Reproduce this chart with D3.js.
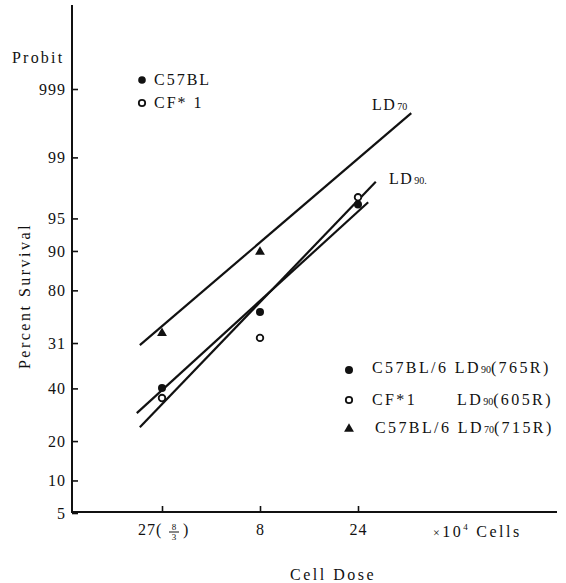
<!DOCTYPE html>
<html>
<head>
<meta charset="utf-8">
<script src="https://cdn.jsdelivr.net/npm/d3@7"></script>
<style>
  body { margin: 0; background: #fff; }
  svg { display: block; }
  text { font-family: "Liberation Serif", "DejaVu Serif", serif; fill: #111; }
</style>
</head>
<body>
<div id="viz"></div>
<script>
// cell doses (x10^4 cells)
const doses = [8 / 3, 8, 24];
const doseLabels = ["", "8", "24"];

// percent survival
const c57Ld90 = [40.2, 72.6, 96.4];
const cf1Ld90 = [35.9, 62.2, 97.0];
const c57Ld70 = [64.2, 89.8];

// fitted lines, [dose, percent] end points
const fitLd70 = [[2.08, 59.1], [43.6, 99.76]];
const fitC57 = [[2.01, 29.8], [26.9, 96.6]];
const fitCf1 = [[2.08, 24.6], [29.3, 98.0]];

// probit axis
const yTicks = [5, 10, 20, 40, 60, 80, 90, 95, 99, 99.9];
const yLabels = ["5", "10", "20", "40", "31", "80", "90", "95", "99", "999"];

// inverse normal cdf (Acklam), pct in percent
function probit(pct) {
  const p = pct / 100;
  const a = [-39.69683028665376, 220.9460984245205, -275.9285104469687, 138.3577518672690, -30.66479806614716, 2.506628277459239];
  const b = [-54.47609879822406, 161.5858368580409, -155.6989798598866, 66.80131188771972, -13.28068155288572];
  const c = [-0.007784894002430293, -0.3223964580411365, -2.400758277161838, -2.549671348620785, 4.374664141464968, 2.938163982698783];
  const d = [0.007784695709041462, 0.3224671290700398, 2.445134137142996, 3.754408661907416];
  const pl = 0.02425;
  let q, r;
  if (p < pl) {
    q = Math.sqrt(-2 * Math.log(p));
    return (((((c[0] * q + c[1]) * q + c[2]) * q + c[3]) * q + c[4]) * q + c[5]) /
      ((((d[0] * q + d[1]) * q + d[2]) * q + d[3]) * q + 1);
  }
  if (p <= 1 - pl) {
    q = p - 0.5; r = q * q;
    return (((((a[0] * r + a[1]) * r + a[2]) * r + a[3]) * r + a[4]) * r + a[5]) * q /
      (((((b[0] * r + b[1]) * r + b[2]) * r + b[3]) * r + b[4]) * r + 1);
  }
  q = Math.sqrt(-2 * Math.log(1 - p));
  return -(((((c[0] * q + c[1]) * q + c[2]) * q + c[3]) * q + c[4]) * q + c[5]) /
    ((((d[0] * q + d[1]) * q + d[2]) * q + d[3]) * q + 1);
}

const width = 566, height = 583;
const axisX = 72, axisY = 512;

const x = d3.scaleLog().domain([8 / 3, 24]).range([162, 358]);
// linear in probit units
const yz = d3.scaleLinear().domain([probit(5), probit(99.9)]).range([513, 89]);
const y = v => yz(probit(v));

const svg = d3.select("#viz").append("svg")
  .attr("width", width)
  .attr("height", height);

// axis lines
svg.append("path")
  .attr("d", `M${axisX},5V${axisY}H557`)
  .attr("fill", "none")
  .attr("stroke", "#111")
  .attr("stroke-width", 2);

// y ticks
const yAxis = svg.append("g")
  .attr("transform", `translate(${axisX},0)`)
  .call(d3.axisLeft(yz)
    .tickValues(yTicks.map(probit))
    .tickSizeInner(-6)
    .tickSizeOuter(0)
    .tickPadding(6)
    .tickFormat((v, i) => yLabels[i]));
yAxis.select(".domain").remove();
yAxis.selectAll("line").attr("stroke", "#111").attr("stroke-width", 1.6);
yAxis.selectAll("text")
  .attr("font-family", "Liberation Serif")
  .attr("font-size", 16)
  .attr("fill", "#111")
  .style("letter-spacing", "1px");

// x ticks
const xAxis = svg.append("g")
  .attr("transform", `translate(0,${axisY})`)
  .call(d3.axisBottom(x)
    .tickValues(doses)
    .tickSizeInner(-6)
    .tickSizeOuter(0)
    .tickPadding(12)
    .tickFormat((v, i) => doseLabels[i]));
xAxis.select(".domain").remove();
xAxis.selectAll("line").attr("stroke", "#111").attr("stroke-width", 1.6);
xAxis.selectAll("text")
  .attr("font-family", "Liberation Serif")
  .attr("font-size", 16)
  .attr("fill", "#111")
  .style("letter-spacing", "1px");

// 27(8/3) label with a small fraction
const fx = x(8 / 3);
const frac = svg.append("g").attr("font-size", 16);
frac.append("text").attr("x", fx - 24).attr("y", 535).style("letter-spacing", "1px").text("27(");
frac.append("text").attr("x", fx + 12).attr("y", 530).attr("font-size", 9).attr("text-anchor", "middle").text("8");
frac.append("line").attr("x1", fx + 7).attr("x2", fx + 17).attr("y1", 532).attr("y2", 532)
  .attr("stroke", "#111").attr("stroke-width", 1);
frac.append("text").attr("x", fx + 12).attr("y", 540).attr("font-size", 9).attr("text-anchor", "middle").text("3");
frac.append("text").attr("x", fx + 21).attr("y", 535).text(")");

// unit label
const unit = svg.append("text").attr("x", 433).attr("y", 537).attr("font-size", 16).style("letter-spacing", "2.5px");
unit.append("tspan").attr("font-size", 12).text("×");
unit.append("tspan").text("10");
unit.append("tspan").attr("font-size", 9).attr("dy", -7).text("4");
unit.append("tspan").attr("dy", 7).attr("dx", 6).text("Cells");

// axis titles
svg.append("text")
  .attr("x", 333).attr("y", 580)
  .attr("text-anchor", "middle")
  .attr("font-size", 16)
  .style("letter-spacing", "2.5px")
  .text("Cell Dose");

svg.append("text")
  .attr("transform", "translate(30,296) rotate(-90)")
  .attr("text-anchor", "middle")
  .attr("font-size", 16)
  .style("letter-spacing", "2.5px")
  .text("Percent Survival");

svg.append("text")
  .attr("x", 12).attr("y", 63)
  .attr("font-size", 16)
  .style("letter-spacing", "2.2px")
  .text("Probit");

// fitted lines
const line = d3.line().x(d => x(d[0])).y(d => y(d[1]));
svg.append("g")
  .attr("fill", "none")
  .attr("stroke", "#111")
  .attr("stroke-width", 2.2)
  .selectAll("path")
  .data([fitLd70, fitC57, fitCf1])
  .join("path")
  .attr("d", line);

// line labels
function ldLabel(px, py, sub) {
  const t = svg.append("text").attr("x", px).attr("y", py).attr("font-size", 16).style("letter-spacing", "1.5px");
  t.append("tspan").text("LD");
  t.append("tspan").attr("font-size", 10).attr("dx", 1).style("letter-spacing", "0px").text(sub);
}
ldLabel(372, 110, "70");
ldLabel(389, 184, "90.");

// points
svg.append("g").selectAll("circle")
  .data(doses.map((d, i) => [d, c57Ld90[i]]))
  .join("circle")
  .attr("cx", d => x(d[0])).attr("cy", d => y(d[1]))
  .attr("r", 4).attr("fill", "#111");

svg.append("g").selectAll("circle")
  .data(doses.map((d, i) => [d, cf1Ld90[i]]))
  .join("circle")
  .attr("cx", d => x(d[0])).attr("cy", d => y(d[1]))
  .attr("r", 3.3).attr("fill", "#fff")
  .attr("stroke", "#111").attr("stroke-width", 1.8);

const tri = d3.symbol().type(d3.symbolTriangle).size(42);
svg.append("g").selectAll("path")
  .data(c57Ld70.map((v, i) => [doses[i], v]))
  .join("path")
  .attr("transform", d => `translate(${x(d[0])},${y(d[1])})`)
  .attr("d", tri)
  .attr("fill", "#111");

// legend, top left
const topLegend = svg.append("g").attr("font-size", 16).style("letter-spacing", "2px");
topLegend.append("circle").attr("cx", 142).attr("cy", 80).attr("r", 3.8).attr("fill", "#111");
topLegend.append("text").attr("x", 154).attr("y", 85).text("C57BL");
topLegend.append("circle").attr("cx", 142).attr("cy", 103).attr("r", 3.2)
  .attr("fill", "#fff").attr("stroke", "#111").attr("stroke-width", 1.8);
topLegend.append("text").attr("x", 154).attr("y", 108).text("CF* 1");

// legend, bottom right
const legend = svg.append("g").attr("font-size", 16).style("letter-spacing", "2.4px");
legend.append("circle").attr("cx", 349).attr("cy", 370).attr("r", 4).attr("fill", "#111");
legend.append("circle").attr("cx", 349).attr("cy", 400).attr("r", 3.2)
  .attr("fill", "#fff").attr("stroke", "#111").attr("stroke-width", 1.8);
legend.append("path").attr("transform", "translate(349,429)").attr("d", tri).attr("fill", "#111");

function legendText(px, py, before, sub, after) {
  const t = legend.append("text").attr("x", px).attr("y", py);
  t.append("tspan").text(before);
  t.append("tspan").attr("font-size", 10).style("letter-spacing", "0px").text(sub);
  t.append("tspan").text(after);
}
legendText(372, 373, "C57BL/6 LD", "90", "(765R)");
legend.append("text").attr("x", 372).attr("y", 405).text("CF*1");
legendText(457, 405, "LD", "90", "(605R)");
legendText(375, 433, "C57BL/6 LD", "70", "(715R)");
</script>
</body>
</html>
